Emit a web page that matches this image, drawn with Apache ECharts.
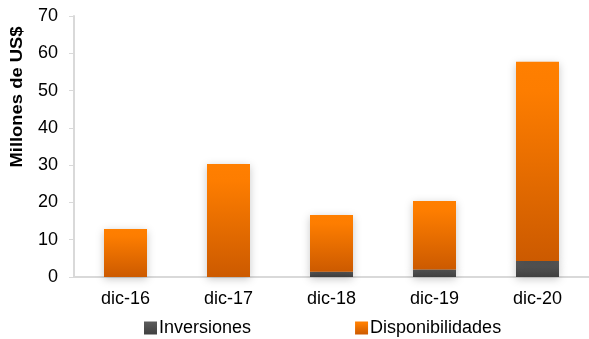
<!DOCTYPE html>
<html>
<head>
<meta charset="utf-8">
<script src="https://cdn.jsdelivr.net/npm/echarts@6/dist/echarts.min.js"></script>
<style>
html,body{margin:0;padding:0;background:#fff;}
#c{width:589px;height:339px;}
</style>
</head>
<body>
<div id="c"></div>
<script>
const categories = ['dic-16', 'dic-17', 'dic-18', 'dic-19', 'dic-20'];
const inversiones = [0, 0, 1.4, 2.0, 4.3];
const disponibilidades = [12.9, 30.3, 15.2, 18.4, 53.4];
const yTicks = [0, 10, 20, 30, 40, 50, 60, 70];

const font = '"Liberation Sans", Arial, sans-serif';
const chart = echarts.init(document.getElementById('c'), null, {renderer: 'canvas'});

const shadow = {shadowBlur: 8, shadowColor: 'rgba(0,0,0,0.22)', shadowOffsetX: 0, shadowOffsetY: 2};

chart.setOption({
  animation: false,
  textStyle: {fontFamily: font},
  grid: {left: 74, top: 16, bottom: 62, width: 519, containLabel: false},
  legend: {
    left: 144, top: 319, padding: 0,
    itemWidth: 13, itemHeight: 13, itemGap: 104,
    icon: 'rect',
    textStyle: {fontSize: 18, color: '#000', fontFamily: font, padding: [0, 0, 0, -3]},
    data: ['Inversiones', 'Disponibilidades']
  },
  xAxis: {
    type: 'category',
    data: categories,
    axisLine: {lineStyle: {color: '#d9d9d9', width: 2}},
    axisTick: {show: false},
    axisLabel: {fontSize: 18, color: '#000', margin: 13, fontFamily: font}
  },
  yAxis: {
    type: 'value',
    min: yTicks[0], max: yTicks[yTicks.length - 1], interval: 10,
    axisLine: {show: true, lineStyle: {color: '#d9d9d9', width: 2}},
    axisTick: {show: true, length: 5, lineStyle: {color: '#d9d9d9', width: 1}},
    splitLine: {show: false},
    axisLabel: {fontSize: 18, color: '#000', margin: 16, fontFamily: font}
  },
  graphic: [{
    type: 'text', x: 18, y: 97, rotation: Math.PI / 2, scaleX: 1.15, scaleY: 1,
    style: {text: 'Millones de US$', fontSize: 16, fontWeight: 'bold', fill: '#000',
      fontFamily: font, align: 'center', verticalAlign: 'middle'}
  }],
  series: [
    {
      name: 'Inversiones', type: 'bar', stack: 'a', barWidth: 43,
      data: inversiones,
      itemStyle: Object.assign({
        color: new echarts.graphic.LinearGradient(0, 0, 0, 1, [
          {offset: 0, color: '#5c5c5c'}, {offset: 1, color: '#404040'}])
      }, shadow)
    },
    {
      name: 'Disponibilidades', type: 'bar', stack: 'a', barWidth: 43,
      data: disponibilidades,
      itemStyle: Object.assign({
        color: new echarts.graphic.LinearGradient(0, 0, 0, 1, [
          {offset: 0, color: '#ff7f00'}, {offset: 0.15, color: '#fd7d00'}, {offset: 1, color: '#cc5a00'}])
      }, shadow)
    }
  ]
});
</script>
</body>
</html>
